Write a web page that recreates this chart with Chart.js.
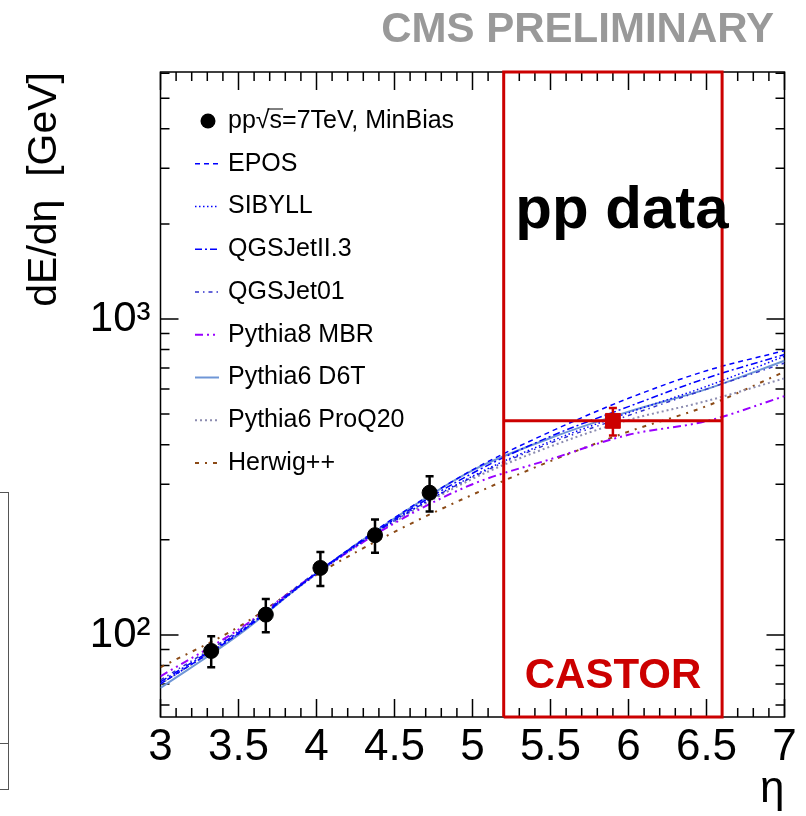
<!DOCTYPE html>
<html>
<head>
<meta charset="utf-8">
<script src="https://cdn.jsdelivr.net/npm/chart.js@4.4.0/dist/chart.umd.min.js"></script>
<style>
    body { margin: 0; background: #fff; }
    #wrap { position: relative; width: 806px; height: 816px; }
    #edge { position: absolute; left: -1px; top: 492px; width: 8px; height: 296px; border: 1px solid #555; }
    #edgeSplit { position: absolute; left: 0; top: 743px; width: 9px; height: 0; border-top: 1px solid #555; }
</style>
</head>
<body>
<div id="wrap">
    <canvas id="dEdEtaChart" width="806" height="816"></canvas>
    <div id="edge"></div>
    <div id="edgeSplit"></div>
</div>
<script>
// grille en eta pour les courbes des modeles
const etaGrid = [3, 3.5, 4, 4.5, 5, 5.5, 6, 6.5, 7];

const epos          = [70, 101, 157, 235, 333, 440, 561, 686, 794];
const sibyll        = [70, 101, 156, 230, 318, 410, 505, 612, 762];
const qgsjetII3     = [71, 102, 157, 232, 325, 425, 528, 650, 772];
const qgsjet01      = [72, 103, 158, 230, 316, 405, 495, 600, 725];
const pythia8MBR    = [74, 104, 157, 226, 300, 360, 430, 475, 570];
const pythia6D6T    = [68, 100, 157, 234, 332, 420, 509, 600, 738];
const pythia6ProQ20 = [70, 101, 156, 228, 312, 395, 479, 550, 649];
const herwigpp      = [79, 106, 155, 212, 278, 355, 440, 530, 681];

// donnees MinBias
const dataEta  = [3.325, 3.675, 4.025, 4.375, 4.725];
const dataVal  = [89, 116, 163, 207, 282];
const dataLow  = [79, 102, 143, 182, 246];
const dataHigh = [99, 130, 183, 232, 318];

// point CASTOR
const castorEta  = [5.9];
const castorVal  = [476];
const castorLow  = [428];
const castorHigh = [523];
const castorRange = [5.2, 6.6];

const xTicks = [3, 3.5, 4, 4.5, 5, 5.5, 6, 6.5, 7];
const xTickLabels = ['3', '3.5', '4', '4.5', '5', '5.5', '6', '6.5', '7'];
const yTickLabels = { 100: '10\u00B2', 1000: '10\u00B3' };
const yMin = 55;
const yMax = 6050;

const FONT = '"Liberation Sans", Arial, Helvetica, sans-serif';

function toPoints(xs, ys) {
    return xs.map((x, i) => ({ x: x, y: ys[i] }));
}

function modelSet(label, values, color, dash, width) {
    return {
        type: 'line',
        label: label,
        data: toPoints(etaGrid, values),
        borderColor: color,
        borderDash: dash,
        borderWidth: width,
        pointRadius: 0,
        cubicInterpolationMode: 'monotone',
        fill: false,
        order: 5
    };
}

// cadre + graduations vers l'interieur (style ROOT)
const frameTicks = {
    id: 'frameTicks',
    beforeDatasetsDraw(chart) {
        const { ctx, chartArea: a, scales: { x, y } } = chart;
        ctx.save();
        ctx.strokeStyle = '#000';
        ctx.lineWidth = 1.5;
        ctx.strokeRect(a.left, a.top, a.right - a.left, a.bottom - a.top);
        ctx.beginPath();
        for (let i = 30; i <= 70; i++) {
            const px = x.getPixelForValue(i / 10);
            const len = i % 5 === 0 ? 18 : 9;
            ctx.moveTo(px, a.bottom); ctx.lineTo(px, a.bottom - len);
            ctx.moveTo(px, a.top); ctx.lineTo(px, a.top + len);
        }
        [10, 100, 1000].forEach(dec => {
            for (let m = 1; m < 10; m++) {
                const v = dec * m;
                if (v < yMin || v > yMax) continue;
                const py = y.getPixelForValue(v);
                const len = m === 1 ? 18 : 9;
                ctx.moveTo(a.left, py); ctx.lineTo(a.left + len, py);
                ctx.moveTo(a.right, py); ctx.lineTo(a.right - len, py);
            }
        });
        ctx.stroke();
        ctx.restore();
    }
};

// barres d'erreur
const errorBars = {
    id: 'errorBars',
    afterDatasetsDraw(chart) {
        const { ctx, scales: { x, y } } = chart;
        chart.data.datasets.forEach(ds => {
            if (!ds.errLow) return;
            ctx.save();
            ctx.strokeStyle = ds.borderColor;
            ctx.lineWidth = 2.5;
            ctx.beginPath();
            ds.data.forEach((p, j) => {
                const px = x.getPixelForValue(p.x);
                const top = y.getPixelForValue(ds.errHigh[j]);
                const bot = y.getPixelForValue(ds.errLow[j]);
                ctx.moveTo(px, top); ctx.lineTo(px, bot);
                ctx.moveTo(px - 4, top); ctx.lineTo(px + 4, top);
                ctx.moveTo(px - 4, bot); ctx.lineTo(px + 4, bot);
            });
            ctx.stroke();
            ctx.restore();
        });
    }
};

// legende et textes
const legendAndText = {
    id: 'legendAndText',
    afterDraw(chart) {
        const ctx = chart.ctx;
        const rows = [0, 1, 2, 3, 4, 5, 6, 7, 8];
        ctx.save();
        ctx.font = '25px ' + FONT;
        ctx.textBaseline = 'middle';
        rows.forEach((dsIndex, i) => {
            const ds = chart.data.datasets[dsIndex];
            const yRow = 121 + 42.75 * i;
            if (dsIndex === 0) {
                ctx.fillStyle = '#000';
                ctx.beginPath();
                ctx.arc(208, yRow, 7.5, 0, Math.PI * 2);
                ctx.fill();
                ctx.fillText('pp\u221As=7TeV, MinBias', 228, yRow);
                const w0 = ctx.measureText('pp\u221A').width;
                const w1 = ctx.measureText('s').width;
                ctx.strokeStyle = '#000';
                ctx.lineWidth = 1;
                ctx.beginPath();
                ctx.moveTo(228 + w0 - 2, yRow - 12);
                ctx.lineTo(228 + w0 + w1 + 1, yRow - 12);
                ctx.stroke();
            } else {
                ctx.strokeStyle = ds.borderColor;
                ctx.lineWidth = ds.borderWidth;
                ctx.setLineDash(ds.borderDash || []);
                ctx.beginPath();
                ctx.moveTo(195, yRow);
                ctx.lineTo(219, yRow);
                ctx.stroke();
                ctx.setLineDash([]);
                ctx.fillStyle = '#000';
                ctx.fillText(ds.label, 228, yRow);
            }
        });

        ctx.textBaseline = 'alphabetic';
        ctx.textAlign = 'center';
        ctx.fillStyle = '#000';
        ctx.font = 'bold 60px ' + FONT;
        ctx.fillText('pp data', 622, 228);
        ctx.fillStyle = '#cc0000';
        ctx.font = 'bold 42px ' + FONT;
        ctx.fillText('CASTOR', 613, 688);
        ctx.textAlign = 'right';
        ctx.fillStyle = '#999999';
        ctx.font = 'bold 42px ' + FONT;
        ctx.fillText('CMS PRELIMINARY', 774, 42);
        ctx.restore();
    }
};

document.addEventListener('DOMContentLoaded', function() {
    const ctx = document.getElementById('dEdEtaChart');
    const datasets = [
        {
            type: 'scatter',
            label: 'pp\u221As=7TeV, MinBias',
            data: toPoints(dataEta, dataVal),
            errLow: dataLow,
            errHigh: dataHigh,
            backgroundColor: '#000',
            borderColor: '#000',
            pointRadius: 7.5,
            pointHoverRadius: 7.5,
            order: 0
        },
        modelSet('EPOS', epos, '#0000ff', [5, 4], 1.5),
        modelSet('SIBYLL', sibyll, '#0000ff', [1.5, 2.5], 1.5),
        modelSet('QGSJetII.3', qgsjetII3, '#0000ff', [7, 3, 2, 3], 1.5),
        modelSet('QGSJet01', qgsjet01, '#3030cc', [4, 4, 1.5, 4], 1.5),
        modelSet('Pythia8 MBR', pythia8MBR, '#9900ff', [8, 4, 2, 4, 2, 4], 2),
        modelSet('Pythia6 D6T', pythia6D6T, '#6f96d6', [], 2),
        modelSet('Pythia6 ProQ20', pythia6ProQ20, '#8c8cb0', [2, 3], 2),
        modelSet('Herwig++', herwigpp, '#8b4a16', [4, 6, 2, 6], 2),
        {
            type: 'scatter',
            label: 'CASTOR',
            data: toPoints(castorEta, castorVal),
            errLow: castorLow,
            errHigh: castorHigh,
            backgroundColor: '#cc0000',
            borderColor: '#cc0000',
            pointStyle: 'rect',
            pointRadius: 10.5,
            pointHoverRadius: 10.5,
            order: 1
        },
        {
            type: 'line',
            label: 'castorBox',
            data: [
                { x: castorRange[0], y: yMin }, { x: castorRange[0], y: yMax },
                { x: castorRange[1], y: yMax }, { x: castorRange[1], y: yMin },
                { x: castorRange[0], y: yMin }
            ],
            borderColor: '#cc0000',
            borderWidth: 3,
            pointRadius: 0,
            clip: false,
            order: 2
        },
        {
            type: 'line',
            label: 'castorLevel',
            data: [{ x: castorRange[0], y: castorVal[0] }, { x: castorRange[1], y: castorVal[0] }],
            borderColor: '#cc0000',
            borderWidth: 3,
            pointRadius: 0,
            order: 2
        }
    ];

    window.dEdEtaChart = new Chart(ctx, {
        data: { datasets: datasets },
        options: {
            responsive: false,
            animation: false,
            events: [],
            layout: { padding: { top: 72, right: 21.5, left: 0, bottom: 0 } },
            plugins: {
                legend: { display: false },
                tooltip: { enabled: false }
            },
            scales: {
                x: {
                    type: 'linear',
                    min: 3,
                    max: 7,
                    afterFit: s => { s.height = 99; },
                    afterBuildTicks: s => { s.ticks = xTicks.map(v => ({ value: v })); },
                    grid: { display: false, drawTicks: false },
                    border: { display: false },
                    ticks: {
                        autoSkip: false,
                        maxRotation: 0,
                        padding: 4,
                        color: '#000',
                        font: { family: FONT, size: 44 },
                        callback: v => xTickLabels[xTicks.indexOf(v)]
                    },
                    title: {
                        display: true,
                        text: '\u03B7',
                        align: 'end',
                        color: '#000',
                        font: { family: FONT, size: 44 },
                        padding: 0
                    }
                },
                y: {
                    type: 'logarithmic',
                    min: yMin,
                    max: yMax,
                    afterFit: s => { s.width = 160.5; },
                    afterBuildTicks: s => { s.ticks = [{ value: 100 }, { value: 1000 }]; },
                    grid: { display: false, drawTicks: false },
                    border: { display: false },
                    ticks: {
                        autoSkip: false,
                        padding: 10,
                        color: '#000',
                        font: { family: FONT, size: 42 },
                        callback: v => yTickLabels[v] || ''
                    },
                    title: {
                        display: true,
                        text: 'dE/d\u03B7  [GeV]',
                        align: 'end',
                        color: '#000',
                        font: { family: FONT, size: 41 },
                        padding: { top: 20, bottom: 0 }
                    }
                }
            }
        },
        plugins: [frameTicks, errorBars, legendAndText]
    });
});
</script>
</body>
</html>
